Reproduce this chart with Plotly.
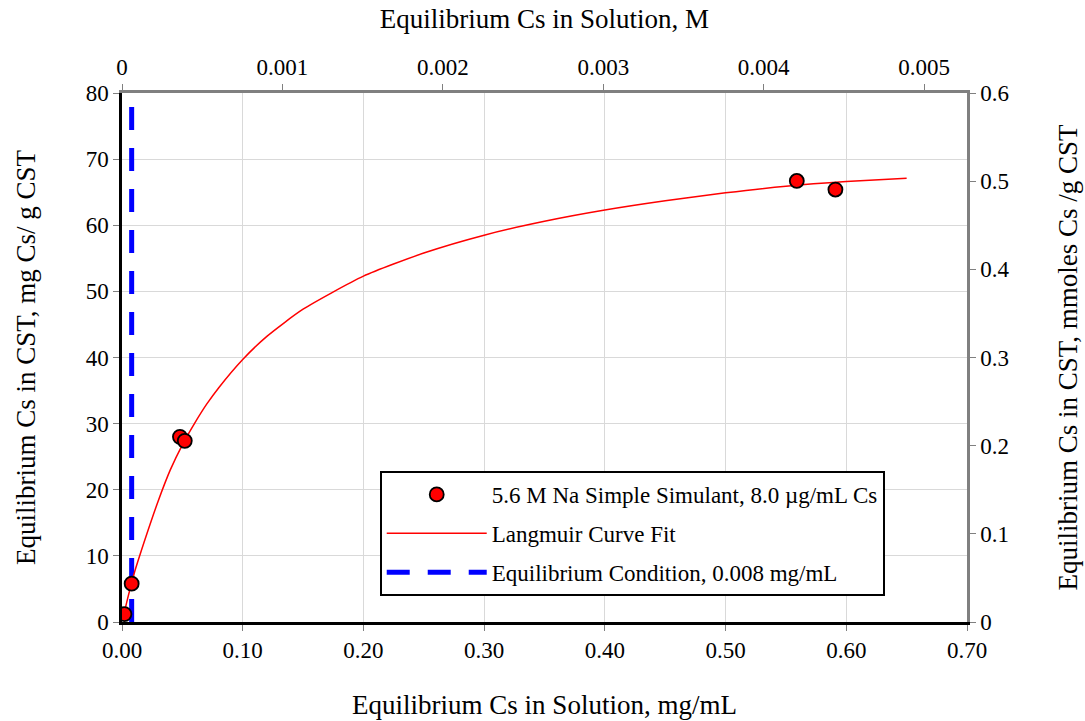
import plotly.graph_objects as go

# Data
data_x = [0.002, 0.008, 0.048, 0.052, 0.559, 0.591]
data_y = [1.2, 5.8, 28.0, 27.4, 66.7, 65.4]

fit_x = [0.002, 0.005, 0.01, 0.02, 0.03, 0.04, 0.05, 0.06, 0.07, 0.08, 0.10, 0.12,
         0.15, 0.20, 0.25, 0.30, 0.35, 0.40, 0.45, 0.50, 0.55, 0.60, 0.65]
fit_y = [1.5, 3.8, 7.3, 13.0, 18.3, 23.0, 26.8, 30.0, 32.9, 35.4, 39.7, 43.2,
         47.3, 52.3, 55.8, 58.5, 60.6, 62.3, 63.7, 64.9, 65.9, 66.6, 67.1]

eq_x = [0.008, 0.008]
eq_y = [0, 80]

x_ticks = [0.0, 0.1, 0.2, 0.3, 0.4, 0.5, 0.6, 0.7]
y_ticks = [0, 10, 20, 30, 40, 50, 60, 70, 80]
top_ticks = [0, 0.001, 0.002, 0.003, 0.004, 0.005]
top_labels = ["0", "0.001", "0.002", "0.003", "0.004", "0.005"]
right_ticks = [0, 0.1, 0.2, 0.3, 0.4, 0.5, 0.6]
right_labels = ["0", "0.1", "0.2", "0.3", "0.4", "0.5", "0.6"]

CS_MW = 132.905
FONT = "Liberation Serif, Times New Roman, serif"
TICK = 23
TITLE = 27

fig = go.Figure()

fig.add_trace(go.Scatter(
    x=eq_x, y=eq_y, mode="lines", name="Equilibrium Condition, 0.008 mg/mL",
    line=dict(color="#0000ff", width=5, dash="23px,18px"), legendgroup="c",
    legendrank=3,
))
fig.add_trace(go.Scatter(
    x=fit_x, y=fit_y, mode="lines", name="Langmuir Curve Fit",
    line=dict(color="#ff0000", width=1.5, shape="spline", smoothing=0.6), legendgroup="b",
    legendrank=2,
))
fig.add_trace(go.Scatter(
    x=data_x, y=data_y, mode="markers",
    name="5.6 M Na Simple Simulant, 8.0 µg/mL Cs",
    marker=dict(color="#ff0000", size=14, line=dict(color="black", width=1.8)),
    legendgroup="a", legendrank=1,
))
# invisible trace to carry the secondary axes
fig.add_trace(go.Scatter(
    x=[0, 0.7 / CS_MW], y=[0, 0.6], xaxis="x2", yaxis="y2", mode="markers",
    marker=dict(opacity=0), showlegend=False, hoverinfo="skip",
))

fig.update_layout(
    width=1085, height=721,
    margin=dict(l=122, r=118, t=93, b=99),
    paper_bgcolor="white", plot_bgcolor="white",
    font=dict(family=FONT, size=TICK, color="black"),
    showlegend=True,
    legend=dict(
        x=0.305, y=0.2855, xanchor="left", yanchor="top",
        bordercolor="black", borderwidth=2, bgcolor="white",
        font=dict(family=FONT, size=23), traceorder="grouped",
        tracegroupgap=6, itemwidth=100,
    ),
    xaxis=dict(
        range=[0, 0.7], tickvals=x_ticks, tickformat=".2f",
        showgrid=True, gridcolor="#d9d9d9", gridwidth=1,
        showline=True, linecolor="black", linewidth=2.5,
        ticks="outside", ticklen=6, tickcolor="#808080",
        zeroline=False, automargin=False,
        title=dict(text="Equilibrium Cs in Solution, mg/mL", font=dict(size=TITLE), standoff=33),
    ),
    yaxis=dict(
        range=[0, 80], tickvals=y_ticks,
        showgrid=True, gridcolor="#d9d9d9", gridwidth=1,
        showline=True, linecolor="black", linewidth=2.5,
        ticks="outside", ticklen=6, tickcolor="#808080",
        zeroline=False, automargin=False,
        title=dict(text="Equilibrium Cs in CST, mg Cs/ g CST", font=dict(size=TITLE), standoff=43),
    ),
    xaxis2=dict(
        overlaying="x", side="top", range=[0, 0.7 / CS_MW],
        tickvals=top_ticks, ticktext=top_labels,
        showgrid=False, showline=True, linecolor="#808080", linewidth=2.5,
        ticks="outside", ticklen=6, tickcolor="#808080", zeroline=False, automargin=False,
        title=dict(text="Equilibrium Cs in Solution, M", font=dict(size=TITLE), standoff=19),
    ),
    yaxis2=dict(
        overlaying="y", side="right", range=[0, 0.6],
        tickvals=right_ticks, ticktext=right_labels,
        showgrid=False, showline=True, linecolor="#808080", linewidth=2.5,
        ticks="outside", ticklen=6, tickcolor="#808080", zeroline=False, automargin=False,
        title=dict(text="Equilibrium Cs in CST, mmoles Cs /g CST", font=dict(size=TITLE), standoff=50),
    ),
)

fig.write_html("out.html")
